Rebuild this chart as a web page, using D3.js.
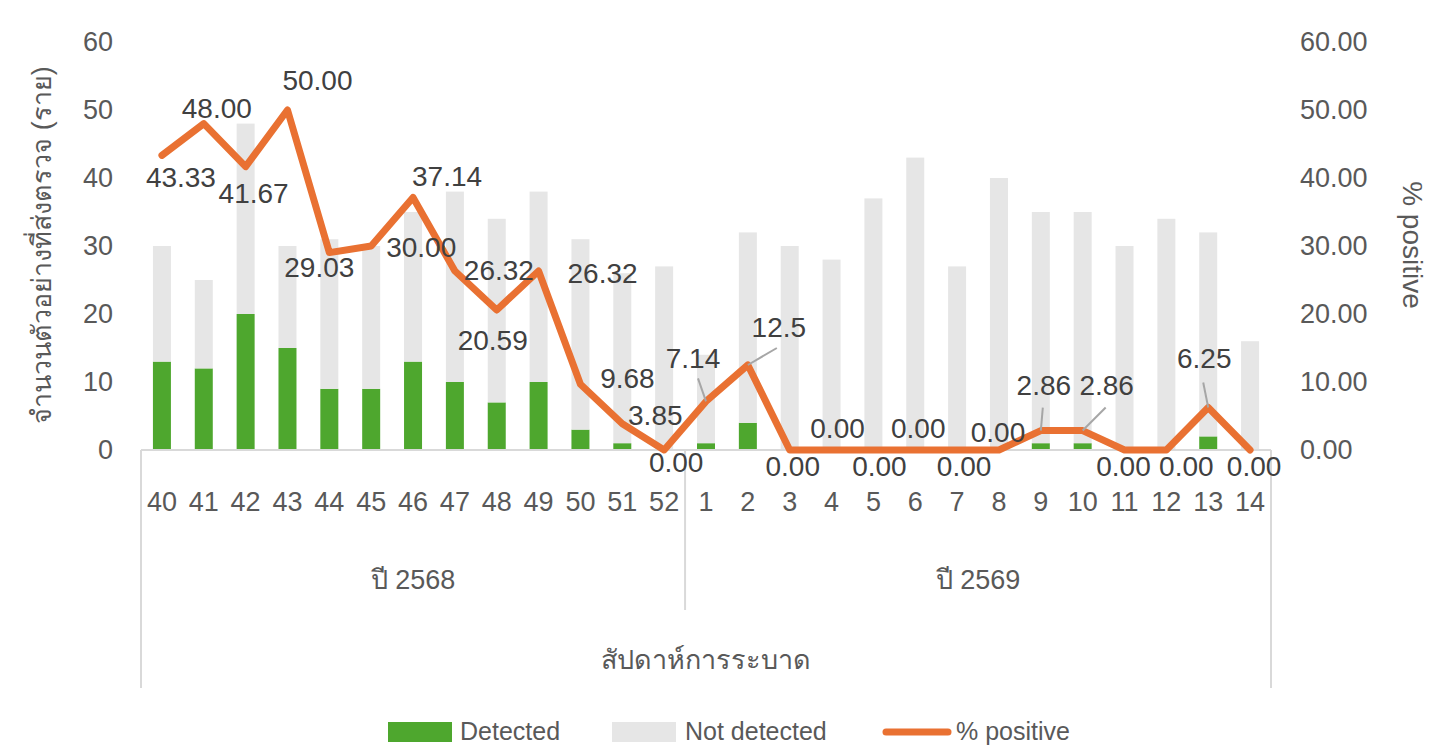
<!DOCTYPE html>
<html>
<head>
<meta charset="utf-8">
<script src="https://cdn.jsdelivr.net/npm/d3@7"></script>
<style>
  body { margin: 0; background: #fff; }
  svg { display: block; }
</style>
</head>
<body>
<div id="chart"></div>
<script>
// weekly samples sent for testing
var weeks = ["40","41","42","43","44","45","46","47","48","49","50","51","52",
             "1","2","3","4","5","6","7","8","9","10","11","12","13","14"];
var yearLabels = ["ปี 2568", "ปี 2569"];
var yearWeekCounts = [13, 14];
var detected    = [13,12,20,15, 9, 9,13,10, 7,10, 3, 1, 0, 1, 4, 0, 0, 0, 0, 0, 0, 1, 1, 0, 0, 2, 0];
var notDetected = [17,13,28,15,22,21,22,28,27,28,28,25,27,13,28,30,28,37,43,27,40,34,34,30,34,30,16];
var pctPositive = [43.33,48.00,41.67,50.00,29.03,30.00,37.14,26.32,20.59,26.32,9.68,3.85,0.00,
                   7.14,12.5,0,0,0,0,0,0,2.86,2.86,0,0,6.25,0];
var pctLabels = ["43.33","48.00","41.67","50.00","29.03","30.00","37.14","26.32","20.59","26.32","9.68","3.85","0.00",
                 "7.14","12.5","0.00","0.00","0.00","0.00","0.00","0.00","2.86","2.86","0.00","0.00","6.25","0.00"];
var leftTicks = [0,10,20,30,40,50,60];
var rightTicks = [0,10,20,30,40,50,60];

// label placement (offset from the point) and leader lines, as dragged in the original
var labelOffsets = [[19,22],[13,-16],[8,26],[30,-30],[-10,14],[50,1],[34,-22],[44,-1],[-4,30],[64,2],[47,-6],[33,-9],[12,12],
                    [-13,-44],[31,-38],[3,16],[6,-22],[6,16],[3,-22],[7,16],[-1,-18],[3,-46],[24,-46],[-1,16],[20,16],[-4,-50],[4,16]];
var leaders = {13: [-8,-23], 14: [29,-17], 21: [2,-23], 22: [23,-23], 25: [-5,-25]};

var width = 1440, height = 747;
var plotLeft = 141, plotRight = 1271, plotTop = 42, plotBottom = 450;
var greenColor = '#4ea72e';
var greyColor = '#e6e6e6';
var orangeColor = '#e97132';
var tickColor = '#595959';
var labelColor = '#404040';
var numFont = '"Liberation Sans", Arial, sans-serif';
var catFont = '"Liberation Sans Narrow", "Liberation Sans", sans-serif';

var svg = d3.select('#chart').append('svg')
  .attr('width', width)
  .attr('height', height);

var x = d3.scaleBand().domain(d3.range(weeks.length)).range([plotLeft, plotRight]).paddingInner(0.57).paddingOuter(0.285);
var yL = d3.scaleLinear().domain([0, 60]).range([plotBottom, plotTop]);
var yR = d3.scaleLinear().domain([0, 60]).range([plotBottom, plotTop]);
var cx = function(i) { return x(i) + x.bandwidth() / 2; };

var stackData = weeks.map(function(w, i) {
  return {i: i, detected: detected[i], notDetected: notDetected[i]};
});
var series = d3.stack().keys(['detected', 'notDetected'])(stackData);
var colors = d3.scaleOrdinal().domain(['detected', 'notDetected']).range([greenColor, greyColor]);

svg.append('g').selectAll('g').data(series).enter().append('g')
  .attr('fill', function(d) { return colors(d.key); })
  .selectAll('rect').data(function(d) { return d; }).enter().append('rect')
  .attr('x', function(d) { return x(d.data.i); })
  .attr('width', x.bandwidth())
  .attr('y', function(d) { return yL(d[1]); })
  .attr('height', function(d) { return yL(d[0]) - yL(d[1]); });

// category axis: baseline plus the two-level frame
var frame = svg.append('g').attr('stroke', '#d9d9d9').attr('stroke-width', 2);
frame.append('line').attr('x1', plotLeft).attr('x2', plotRight).attr('y1', plotBottom).attr('y2', plotBottom);
frame.append('line').attr('x1', plotLeft).attr('x2', plotLeft).attr('y1', plotBottom).attr('y2', 688);
frame.append('line').attr('x1', plotRight).attr('x2', plotRight).attr('y1', plotBottom).attr('y2', 688);
var split = x(yearWeekCounts[0]) - x.step() * x.paddingInner() / 2;
frame.append('line').attr('x1', split).attr('x2', split).attr('y1', plotBottom).attr('y2', 610);

svg.append('g').selectAll('text').data(weeks).enter().append('text')
  .attr('x', function(d, i) { return cx(i); })
  .attr('y', 502)
  .attr('dy', '0.35em')
  .attr('text-anchor', 'middle')
  .attr('font-family', catFont)
  .attr('font-size', 27)
  .attr('fill', tickColor)
  .text(function(d) { return d; });

var startIdx = 0;
yearLabels.forEach(function(lbl, k) {
  var a = x(startIdx) - x.step() * x.paddingInner() / 2;
  var b = x(startIdx + yearWeekCounts[k] - 1) + x.bandwidth() + x.step() * x.paddingInner() / 2;
  if (k == 0) a = plotLeft;
  if (k == yearLabels.length - 1) b = plotRight;
  svg.append('text')
    .attr('x', (a + b) / 2)
    .attr('y', 580)
    .attr('dy', '0.35em')
    .attr('text-anchor', 'middle')
    .attr('font-family', catFont)
    .attr('font-size', 27)
    .attr('fill', tickColor)
    .text(lbl);
  startIdx += yearWeekCounts[k];
});

svg.append('text')
  .attr('x', (plotLeft + plotRight) / 2)
  .attr('y', 660)
  .attr('dy', '0.35em')
  .attr('text-anchor', 'middle')
  .attr('font-family', catFont)
  .attr('font-size', 27)
  .attr('fill', tickColor)
  .text('สัปดาห์การระบาด');

// value axes
svg.append('g')
  .attr('transform', 'translate(' + plotLeft + ',0)')
  .call(d3.axisLeft(yL).tickValues(leftTicks).tickSize(0).tickPadding(28).tickFormat(d3.format('d')))
  .call(function(g) { g.select('.domain').remove(); })
  .selectAll('text')
  .attr('font-family', numFont)
  .attr('font-size', 27)
  .attr('fill', tickColor);

svg.append('g')
  .attr('transform', 'translate(' + plotRight + ',0)')
  .call(d3.axisRight(yR).tickValues(rightTicks).tickSize(0).tickPadding(29).tickFormat(d3.format('.2f')))
  .call(function(g) { g.select('.domain').remove(); })
  .selectAll('text')
  .attr('font-family', numFont)
  .attr('font-size', 27)
  .attr('fill', tickColor);

svg.append('text')
  .attr('transform', 'translate(42,245) rotate(-90)')
  .attr('dy', '0.35em')
  .attr('text-anchor', 'middle')
  .attr('font-family', catFont)
  .attr('font-size', 27)
  .attr('fill', tickColor)
  .text('จำนวนตัวอย่างที่ส่งตรวจ (ราย)');

svg.append('text')
  .attr('transform', 'translate(1413,245) rotate(90)')
  .attr('dy', '0.35em')
  .attr('text-anchor', 'middle')
  .attr('font-family', numFont)
  .attr('font-size', 28)
  .attr('fill', tickColor)
  .text('% positive');

// % positive line
var line = d3.line()
  .x(function(d, i) { return cx(i); })
  .y(function(d) { return yR(d); });

svg.append('path')
  .datum(pctPositive)
  .attr('d', line)
  .attr('fill', 'none')
  .attr('stroke', orangeColor)
  .attr('stroke-width', 7)
  .attr('stroke-linejoin', 'round')
  .attr('stroke-linecap', 'round');

var leaderG = svg.append('g').attr('stroke', '#a6a6a6').attr('stroke-width', 2);
Object.keys(leaders).forEach(function(k) {
  var i = +k;
  leaderG.append('line')
    .attr('x1', cx(i) + leaders[k][0]).attr('y1', yR(pctPositive[i]) + leaders[k][1])
    .attr('x2', cx(i)).attr('y2', yR(pctPositive[i]));
});

svg.append('g').selectAll('text').data(pctLabels).enter().append('text')
  .attr('x', function(d, i) { return cx(i) + labelOffsets[i][0]; })
  .attr('y', function(d, i) { return yR(pctPositive[i]) + labelOffsets[i][1]; })
  .attr('dy', '0.36em')
  .attr('text-anchor', 'middle')
  .attr('font-family', numFont)
  .attr('font-size', 28)
  .attr('fill', labelColor)
  .text(function(d) { return d; });

// legend
var legend = svg.append('g').attr('font-family', catFont).attr('font-size', 25).attr('fill', tickColor);
legend.append('rect').attr('x', 388).attr('y', 722).attr('width', 64).attr('height', 20).attr('fill', greenColor);
legend.append('text').attr('x', 460).attr('y', 731).attr('dy', '0.35em').text('Detected');
legend.append('rect').attr('x', 612).attr('y', 722).attr('width', 64).attr('height', 20).attr('fill', greyColor);
legend.append('text').attr('x', 685).attr('y', 731).attr('dy', '0.35em').text('Not detected');
legend.append('line').attr('x1', 886).attr('x2', 948).attr('y1', 732).attr('y2', 732)
  .attr('stroke', orangeColor).attr('stroke-width', 7).attr('stroke-linecap', 'round');
legend.append('text').attr('x', 956).attr('y', 731).attr('dy', '0.35em').text('% positive');
</script>
</body>
</html>
